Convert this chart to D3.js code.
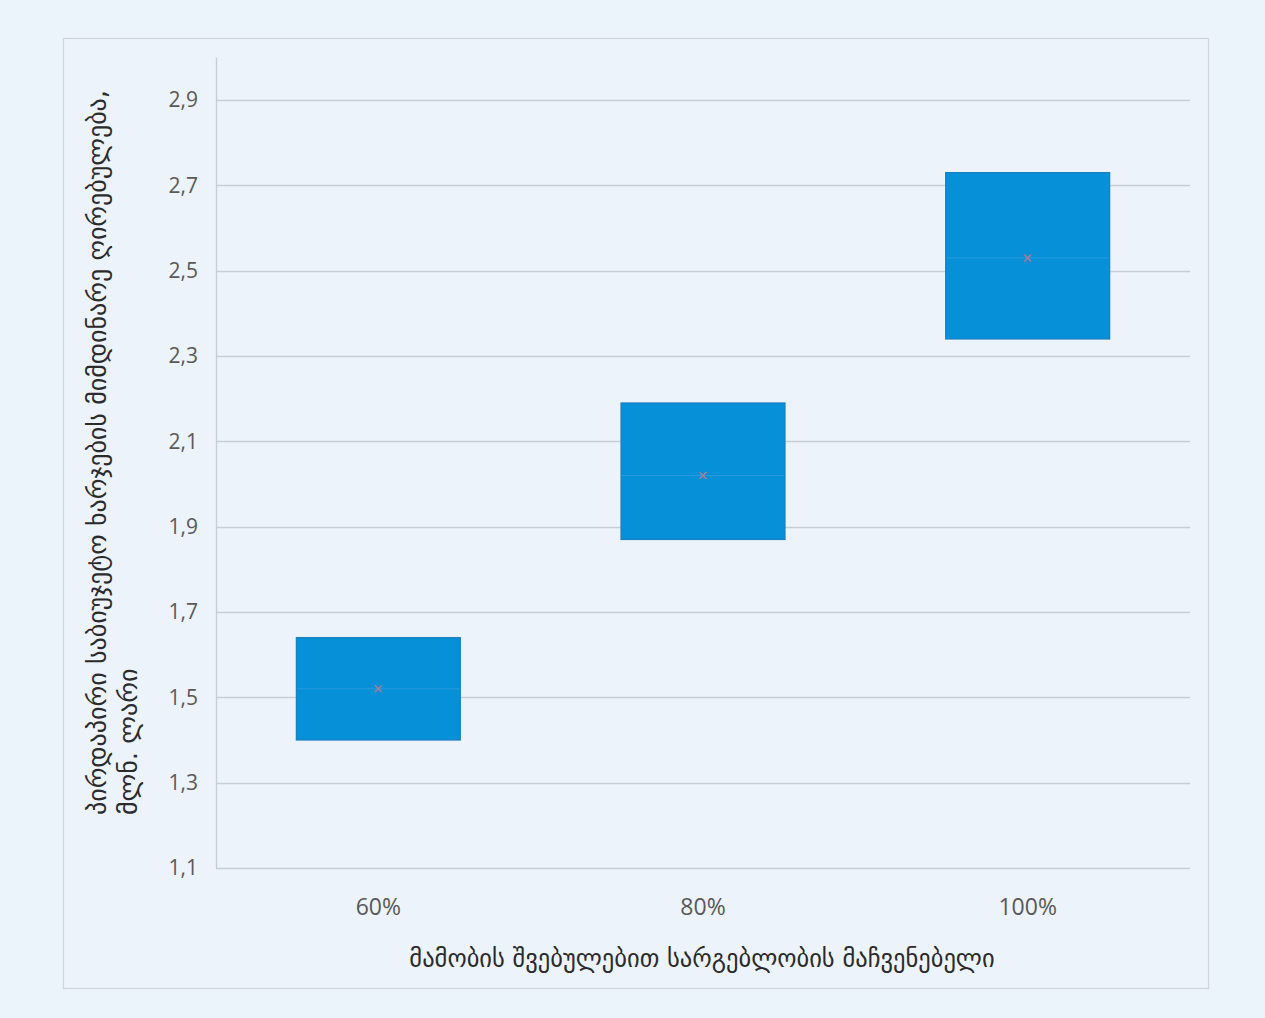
<!DOCTYPE html>
<html>
<head>
<meta charset="utf-8">
<script src="https://cdn.jsdelivr.net/npm/d3@7"></script>
<style>
  html, body { margin: 0; padding: 0; background: #ebf3fb; }
  svg { display: block; }
</style>
</head>
<body>
<svg id="chart" width="1265" height="1018"></svg>
<script>
// ---- data ----
const categories = ["60%", "80%", "100%"];
const boxLow  = [1.40, 1.87, 2.34];
const boxHigh = [1.64, 2.19, 2.73];
const means   = [1.52, 2.02, 2.53];
const yTicks  = [1.1, 1.3, 1.5, 1.7, 1.9, 2.1, 2.3, 2.5, 2.7, 2.9];
const yTitleLines = ["პირდაპირი საბიუჯეტო ხარჯების მიმდინარე ღირებულება,", "მლნ. ლარი"];
const xTitle = "მამობის შვებულებით სარგებლობის მაჩვენებელი";

// ---- layout ----
const plot = { left: 216, right: 1190, top: 57.4, bottom: 868 };
const svg = d3.select("#chart");

// frame
svg.append("rect")
  .attr("x", 63.5).attr("y", 38.5)
  .attr("width", 1208 - 63).attr("height", 988 - 38)
  .attr("fill", "#ecf3fb").attr("stroke", "#cfd5dc").attr("stroke-width", 1.2);

const x = d3.scaleBand().domain(categories).range([plot.left, plot.right]).padding(0);
const y = d3.scaleLinear().domain([1.1, 3.0]).range([plot.bottom, plot.top]);

// gridlines
svg.append("g").selectAll("line").data(yTicks).join("line")
  .attr("x1", plot.left).attr("x2", plot.right)
  .attr("y1", d => Math.round(y(d)) + 0.5).attr("y2", d => Math.round(y(d)) + 0.5)
  .attr("stroke", "#c9ced5").attr("stroke-width", 1.3);

// y axis line
svg.append("line")
  .attr("x1", plot.left + 0.5).attr("x2", plot.left + 0.5)
  .attr("y1", plot.top).attr("y2", plot.bottom)
  .attr("stroke", "#c9ced5").attr("stroke-width", 1.3);

// y tick labels via axis
const yAxis = d3.axisLeft(y).tickValues(yTicks).tickSize(0).tickPadding(18)
  .tickFormat(d => d3.format(".1f")(d).replace(".", ","));
const gy = svg.append("g").attr("transform", `translate(${plot.left},0)`).call(yAxis);
gy.select(".domain").remove();
gy.selectAll("text")
  .attr("font-family", "'Open Sans', sans-serif").attr("font-size", 21)
  .attr("fill", "#595959");

// x tick labels via axis
const xAxis = d3.axisBottom(x).tickSize(0).tickPadding(31);
const gx = svg.append("g").attr("transform", `translate(0,${plot.bottom})`).call(xAxis);
gx.select(".domain").remove();
gx.selectAll("text")
  .attr("font-family", "'Open Sans', sans-serif").attr("font-size", 23)
  .attr("fill", "#595959");

// boxes
const boxW = x.bandwidth() * 0.505;
const boxes = svg.append("g").selectAll("g").data(categories).join("g");
boxes.append("rect")
  .attr("x", d => x(d) + x.bandwidth() / 2 - boxW / 2)
  .attr("y", (d, i) => y(boxHigh[i]))
  .attr("width", boxW)
  .attr("height", (d, i) => y(boxLow[i]) - y(boxHigh[i]))
  .attr("fill", "#0590d7").attr("stroke", "#1b7fbf").attr("stroke-width", 1.2);
// median line (faint)
boxes.append("line")
  .attr("x1", d => x(d) + x.bandwidth() / 2 - boxW / 2 + 1)
  .attr("x2", d => x(d) + x.bandwidth() / 2 + boxW / 2 - 1)
  .attr("y1", (d, i) => y(means[i])).attr("y2", (d, i) => y(means[i]))
  .attr("stroke", "#2a9ade").attr("stroke-width", 1);
// mean marker (x)
const s = 3.5;
boxes.append("path")
  .attr("d", (d, i) => {
    const cx = x(d) + x.bandwidth() / 2, cy = y(means[i]);
    return `M${cx - s},${cy - s}L${cx + s},${cy + s}M${cx - s},${cy + s}L${cx + s},${cy - s}`;
  })
  .attr("stroke", "#b07a9a").attr("stroke-width", 1.4).attr("fill", "none");

// x title
svg.append("text")
  .attr("x", (plot.left + plot.right) / 2 - 1).attr("y", 967)
  .attr("text-anchor", "middle")
  .attr("font-family", "'DejaVu Sans', sans-serif").attr("font-size", 24.5)
  .attr("fill", "#2b2b2b")
  .text(xTitle);

// y title (two lines, rotated, left-aligned at bottom)
const yt = svg.append("text")
  .attr("transform", "translate(106,815) rotate(-90)")
  .attr("text-anchor", "start")
  .attr("font-family", "'DejaVu Sans', sans-serif").attr("font-size", 26)
  .attr("fill", "#2b2b2b");
yTitleLines.forEach((t, i) => {
  yt.append("tspan").attr("x", 0).attr("dy", i === 0 ? 0 : 31).text(t);
});
</script>
</body>
</html>
